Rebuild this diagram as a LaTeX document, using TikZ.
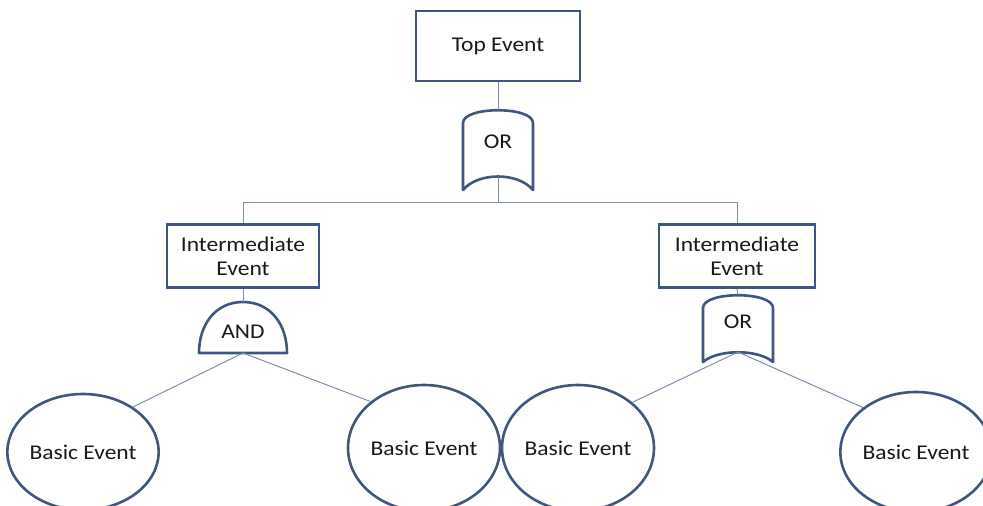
\documentclass[tikz,border=0pt]{standalone}
\usepackage{fontspec}
\setmainfont{Carlito}[FakeStretch=1.12]
\usetikzlibrary{shapes.geometric}
\definecolor{edgeblue}{HTML}{3F5780}
\definecolor{wireblue}{HTML}{7C90AE}
\tikzset{
  evbox/.style={draw=edgeblue, line width=2.6pt, fill=white, inner sep=0pt,
    align=center, text=black!90, font=\fontsize{21}{24}\selectfont},
  basic/.style={ellipse, draw=edgeblue, line width=2.6pt, fill=white, inner sep=0pt,
    text=black!90, font=\fontsize{21}{24}\selectfont},
  gate/.style={draw=edgeblue, line width=2.6pt, fill=white, line join=round},
  gatelabel/.style={font=\fontsize{21}{24}\selectfont, text=black!90, inner sep=0pt},
  wire/.style={draw=wireblue, line width=1pt}
}
\begin{document}
\begin{tikzpicture}[x=1pt, y=-1pt]
  \useasboundingbox (0,0) rectangle (983,506);

  % events
  \node[evbox, minimum width=164pt, minimum height=70pt] (top) at (498,46) {Top Event};
  \node[evbox, minimum width=152pt, minimum height=63pt] (int1) at (243,256) {Intermediate\\Event};
  \node[evbox, minimum width=156pt, minimum height=63pt] (int2) at (737,256) {Intermediate\\Event};

  % top OR gate
  \draw[gate] (463,123) .. controls (463,106) and (533,106) .. (533,123)
    -- (533,190) .. controls (518,172) and (478,172) .. (463,190) -- cycle;
  \node[gatelabel] (or1) at (498,142) {OR};
  \coordinate (or1top) at (498,110);
  \coordinate (or1bot) at (498,177);

  % AND gate under the left intermediate event
  \draw[gate] (199,353) .. controls (199,325) and (215,302) .. (243,302)
    .. controls (271,302) and (287,325) .. (287,353) -- cycle;
  \node[gatelabel] (and1) at (243,332) {AND};
  \coordinate (andtop) at (243,302);
  \coordinate (andbot) at (243,353);

  % OR gate under the right intermediate event
  \draw[gate] (703,308) .. controls (703,291) and (773,291) .. (773,308)
    -- (773,362) .. controls (758,349) and (718,349) .. (703,362) -- cycle;
  \node[gatelabel] (or2) at (738,322) {OR};
  \coordinate (or2top) at (738,295);
  \coordinate (or2bot) at (738,352);

  % basic events
  \node[basic, minimum width=150pt, minimum height=116pt] (e1) at (83,452) {Basic Event};
  \node[basic, minimum width=152pt, minimum height=126pt] (e2) at (424,448) {Basic Event};
  \node[basic, minimum width=152pt, minimum height=126pt] (e3) at (578,448) {Basic Event};
  \node[basic, minimum width=146pt, minimum height=120pt] (e4) at (916,452) {Basic Event};

  % connectors
  \coordinate (jn) at (498,202);
  \draw[wire] (top.south) -- (or1top);
  \draw[wire] (or1bot) -- (jn);
  \draw[wire] (jn) -| (int1.north);
  \draw[wire] (jn) -| (int2.north);
  \draw[wire] (int1.south) -- (andtop);
  \draw[wire] (int2.south) -- (or2top);
  \draw[wire] (andbot) -- (e1.42);
  \draw[wire] (andbot) -- (e2.139);
  \draw[wire] (or2bot) -- (e3.40);
  \draw[wire] (or2bot) -- (e4.140);
\end{tikzpicture}
\end{document}
